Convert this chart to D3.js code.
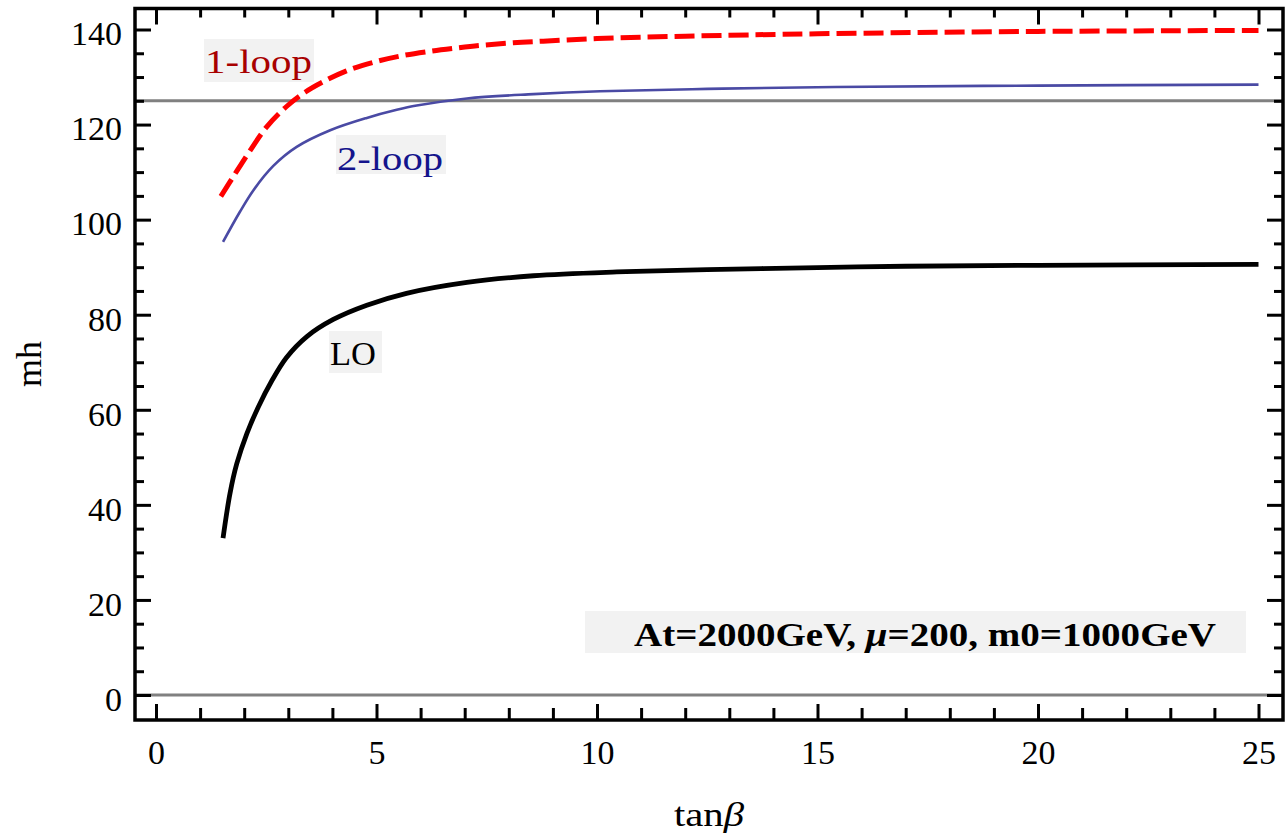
<!DOCTYPE html>
<html>
<head>
<meta charset="utf-8">
<script src="https://cdn.jsdelivr.net/npm/d3@7"></script>
<style>
  body { margin: 0; background: #fff; }
  text { font-family: "Liberation Serif", "Times New Roman", serif; }
</style>
</head>
<body>
<div id="chart"></div>
<script>
// points, one x/y pair of arrays per curve
var loX   = [1.52, 1.68, 1.83, 2.06, 2.32, 2.62, 2.96, 3.42, 4.02, 4.78, 5.68, 7.05, 8.56, 10.45, 12.5, 15, 17, 20, 25];
var loY   = [33.0, 42.5, 48.6, 55.0, 60.6, 66.0, 71.0, 75.4, 79.0, 82.0, 84.5, 86.8, 88.2, 89.0, 89.5, 89.9, 90.2, 90.4, 90.6];

var oneX  = [1.47, 1.79, 2.11, 2.5, 2.96, 3.38, 3.79, 4.32, 4.93, 5.53, 6.21, 6.82, 7.42, 8.1, 8.78, 10, 12, 15, 20, 25];
var oneY  = [104.9, 109.6, 114.2, 119.4, 123.8, 126.8, 129.0, 131.3, 133.1, 134.4, 135.4, 136.1, 136.7, 137.2, 137.55, 138.1, 138.6, 139.1, 139.6, 139.8];

var twoX  = [1.52, 1.9, 2.21, 2.66, 3.19, 3.95, 4.78, 5.46, 5.91, 7.05, 8.56, 10.07, 12.5, 15.4, 20, 25];
var twoY  = [95.3, 101.6, 106.2, 111.3, 115.3, 118.8, 121.4, 123.1, 124.0, 125.5, 126.4, 127.0, 127.5, 127.9, 128.2, 128.4];

var refLines = [0, 125];
var xMajor = [0, 5, 10, 15, 20, 25];
var yMajor = [0, 20, 40, 60, 80, 100, 120, 140];
var curveNames = ["1-loop", "2-loop", "LO"];
var noteText = ["At=2000GeV, ", "\u03bc", "=200, m0=1000GeV"];

var width = 1285, height = 836;
var frame = {left: 135, right: 1283, top: 8.5, bottom: 720};
var serif = "'Liberation Serif', 'Times New Roman', serif";

var svg = d3.select("#chart").append("svg")
    .attr("width", width)
    .attr("height", height);

var x = d3.scaleLinear().domain([0, 25]).range([156, 1258.5]);
var y = d3.scaleLinear().domain([0, 140]).range([695, 29.5]);

// grey reference lines (m=0 and m=125)
svg.append("g").selectAll("line")
    .data(refLines).enter().append("line")
    .attr("x1", frame.left)
    .attr("x2", frame.right)
    .attr("y1", function(d) { return y(d); })
    .attr("y2", function(d) { return y(d); })
    .attr("stroke", "#808080")
    .attr("stroke-width", 3);

var line = d3.line()
    .x(function(d) { return x(d[0]); })
    .y(function(d) { return y(d[1]); })
    .curve(d3.curveCatmullRom.alpha(0.5));

function pairs(xs, ys) {
    return xs.map(function(t, i) { return [t, ys[i]]; });
}

svg.append("path")
    .attr("d", line(pairs(twoX, twoY)))
    .attr("fill", "none")
    .attr("stroke", "#4a4aa4")
    .attr("stroke-width", 2.6);

svg.append("path")
    .attr("d", line(pairs(loX, loY)))
    .attr("fill", "none")
    .attr("stroke", "#000")
    .attr("stroke-width", 4.8);

svg.append("path")
    .attr("d", line(pairs(oneX, oneY)))
    .attr("fill", "none")
    .attr("stroke", "#ff0000")
    .attr("stroke-width", 5)
    .attr("stroke-dasharray", "20,7");

// curve labels on light boxes
var labelBoxes = [
    {x: 204, y: 39, w: 110, h: 43, tx: 205, ty: 73, tw: 107, color: "#a80000"},
    {x: 336, y: 135, w: 110, h: 39, tx: 337, ty: 170, tw: 106, color: "#14148c"},
    {x: 329, y: 331, w: 53, h: 42, tx: 330, ty: 365, tw: 46, color: "#000"}
];
var lab = svg.append("g").selectAll("g")
    .data(curveNames).enter().append("g");
lab.append("rect")
    .attr("x", function(d, i) { return labelBoxes[i].x; })
    .attr("y", function(d, i) { return labelBoxes[i].y; })
    .attr("width", function(d, i) { return labelBoxes[i].w; })
    .attr("height", function(d, i) { return labelBoxes[i].h; })
    .attr("fill", "#f2f2f2");
lab.append("text")
    .attr("x", function(d, i) { return labelBoxes[i].tx; })
    .attr("y", function(d, i) { return labelBoxes[i].ty; })
    .attr("textLength", function(d, i) { return labelBoxes[i].tw; })
    .attr("lengthAdjust", "spacingAndGlyphs")
    .attr("font-size", 34)
    .attr("fill", function(d, i) { return labelBoxes[i].color; })
    .text(function(d) { return d; });

// parameter note
svg.append("rect")
    .attr("x", 585).attr("y", 611)
    .attr("width", 661).attr("height", 42)
    .attr("fill", "#f2f2f2");
var note = svg.append("text")
    .attr("x", 634).attr("y", 646)
    .attr("font-size", 33)
    .attr("font-weight", "bold")
    .attr("textLength", 582)
    .attr("lengthAdjust", "spacingAndGlyphs");
note.selectAll("tspan")
    .data(noteText).enter().append("tspan")
    .attr("font-style", function(d, i) { return i == 1 ? "italic" : null; })
    .text(function(d) { return d; });

// ticks on all four sides, pointing inward
function minorOf(lo, hi, step, majors) {
    return d3.range(lo, hi + 0.001, step).filter(function(v) { return majors.indexOf(v) < 0; });
}
var xMinor = minorOf(0, 25, 1, xMajor);
var yMinor = minorOf(0, 140, 5, yMajor);

function styleAxis(g) {
    g.select(".domain").remove();
    g.attr("font-family", serif);
    g.selectAll(".tick line").attr("stroke", "#000").attr("stroke-width", 3);
    g.selectAll("text")
        .style("font-family", serif)
        .attr("font-size", 34)
        .attr("fill", "#000");
}

svg.append("g")
    .attr("transform", "translate(0," + frame.bottom + ")")
    .call(d3.axisBottom(x).tickValues(xMajor).tickSize(-16).tickPadding(20).tickFormat(d3.format("d")))
    .call(styleAxis);
svg.append("g")
    .attr("transform", "translate(0," + frame.bottom + ")")
    .call(d3.axisBottom(x).tickValues(xMinor).tickSize(-12).tickFormat(""))
    .call(styleAxis);
svg.append("g")
    .attr("transform", "translate(0," + frame.top + ")")
    .call(d3.axisTop(x).tickValues(xMajor).tickSize(-16).tickFormat(""))
    .call(styleAxis);
svg.append("g")
    .attr("transform", "translate(0," + frame.top + ")")
    .call(d3.axisTop(x).tickValues(xMinor).tickSize(-9).tickFormat(""))
    .call(styleAxis);

var yl = svg.append("g")
    .attr("transform", "translate(" + frame.left + ",0)")
    .call(d3.axisLeft(y).tickValues(yMajor).tickSize(-16).tickPadding(13).tickFormat(d3.format("d")))
    .call(styleAxis);
yl.selectAll("text").attr("dy", "0.45em");
svg.append("g")
    .attr("transform", "translate(" + frame.left + ",0)")
    .call(d3.axisLeft(y).tickValues(yMinor).tickSize(-9).tickFormat(""))
    .call(styleAxis);
svg.append("g")
    .attr("transform", "translate(" + frame.right + ",0)")
    .call(d3.axisRight(y).tickValues(yMajor).tickSize(-16).tickFormat(""))
    .call(styleAxis);
svg.append("g")
    .attr("transform", "translate(" + frame.right + ",0)")
    .call(d3.axisRight(y).tickValues(yMinor).tickSize(-9).tickFormat(""))
    .call(styleAxis);

// frame
svg.append("rect")
    .attr("x", frame.left).attr("y", frame.top)
    .attr("width", frame.right - frame.left)
    .attr("height", frame.bottom - frame.top)
    .attr("fill", "none")
    .attr("stroke", "#000")
    .attr("stroke-width", 3.5);

// axis titles
var xt = svg.append("text")
    .attr("x", 674).attr("y", 826)
    .attr("font-size", 34)
    .attr("textLength", 70)
    .attr("lengthAdjust", "spacingAndGlyphs");
xt.append("tspan").text("tan");
xt.append("tspan").attr("font-style", "italic").text("\u03b2");

svg.append("text")
    .attr("transform", "translate(41,364) rotate(-90)")
    .attr("text-anchor", "middle")
    .attr("font-size", 36)
    .text("mh");
</script>
</body>
</html>
